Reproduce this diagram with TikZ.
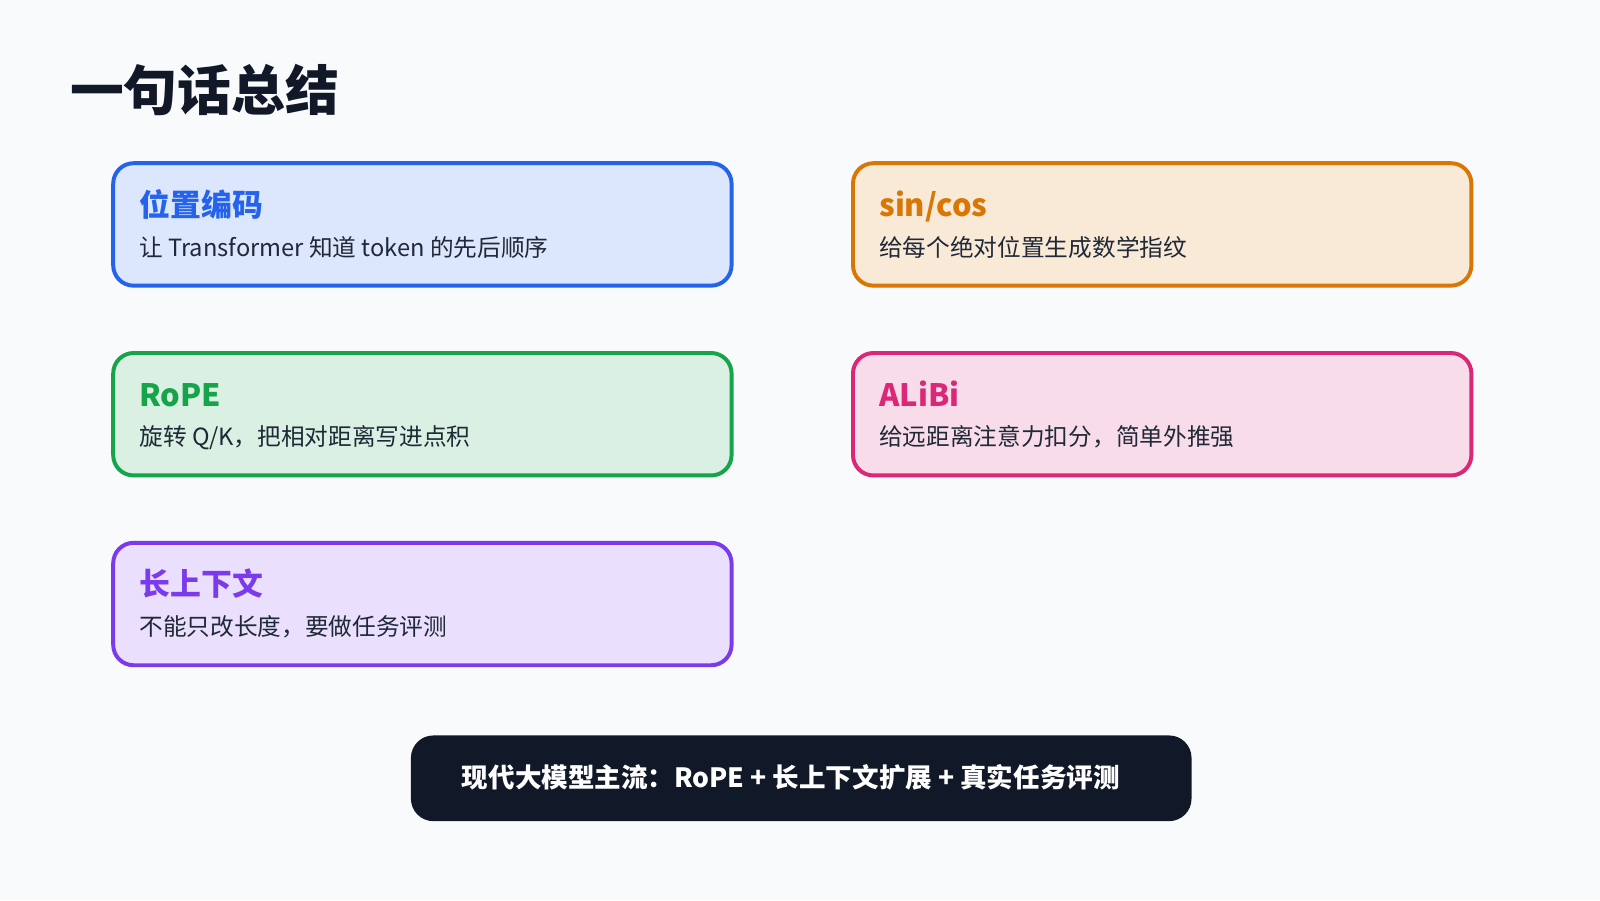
\documentclass[tikz,border=0pt]{standalone}
\usepackage{fontspec}
\setmainfont{Noto Sans CJK SC}
\usetikzlibrary{positioning}
\definecolor{PageBg}{HTML}{F8FAFC}
\definecolor{InkDark}{HTML}{111827}
\definecolor{TextBody}{HTML}{1F2937}
\definecolor{CardBlue}{HTML}{2563EB}
\definecolor{CardOrange}{HTML}{D97706}
\definecolor{CardGreen}{HTML}{16A34A}
\definecolor{CardPink}{HTML}{DB2777}
\definecolor{CardPurple}{HTML}{7C3AED}
\tikzset{
  card/.style={draw=#1, fill=#1!16, line width=1.1pt, rounded corners=0.2cm,
    minimum width=6.06cm, minimum height=1.2cm, anchor=north west},
  head/.style={font=\fontsize{8.6pt}{10pt}\selectfont\bfseries, text=#1, anchor=base west},
  body/.style={font=\fontsize{6.6pt}{8pt}\selectfont, text=TextBody, anchor=base west}
}
\begin{document}
\begin{tikzpicture}[y=-1cm]
  \fill[PageBg] (0,0) rectangle (15.68,8.82);
  \useasboundingbox (0,0) rectangle (15.68,8.82);
  % Title
  \node[font=\fontsize{15pt}{18pt}\selectfont\bfseries, text=InkDark, anchor=base west, inner sep=0pt] (title) at (0.68,1.08) {一句话总结};
  % Cards
  \node[card=CardBlue] (pos) at (1.09,1.58) {};
  \node[head=CardBlue, inner sep=0pt] (posH) at (1.36,2.12) {位置编码};
  \node[body, inner sep=0pt] (posB) at (1.36,2.51) {让 Transformer 知道 token 的先后顺序};
  \node[card=CardOrange] (sin) at (8.34,1.58) {};
  \node[head=CardOrange, inner sep=0pt] (sinH) at (8.61,2.12) {sin/cos};
  \node[body, inner sep=0pt] (sinB) at (8.61,2.51) {给每个绝对位置生成数学指纹};
  \node[card=CardGreen] (rope) at (1.09,3.44) {};
  \node[head=CardGreen, inner sep=0pt] (ropeH) at (1.36,3.98) {RoPE};
  \node[body, inner sep=0pt] (ropeB) at (1.36,4.37) {旋转 Q/K，把相对距离写进点积};
  \node[card=CardPink] (alibi) at (8.34,3.44) {};
  \node[head=CardPink, inner sep=0pt] (alibiH) at (8.61,3.98) {ALiBi};
  \node[body, inner sep=0pt] (alibiB) at (8.61,4.37) {给远距离注意力扣分，简单外推强};
  \node[card=CardPurple] (ctx) at (1.09,5.30) {};
  \node[head=CardPurple, inner sep=0pt] (ctxH) at (1.36,5.84) {长上下文};
  \node[body, inner sep=0pt] (ctxB) at (1.36,6.23) {不能只改长度，要做任务评测};
  % Summary bar
  \node[fill=InkDark, rounded corners=0.22cm, minimum width=7.65cm, minimum height=0.84cm, anchor=north west] (bar) at (4.02,7.20) {};
  \node[font=\fontsize{7.4pt}{9pt}\selectfont\bfseries, text=white, anchor=west, inner sep=0pt] (barT) at (4.52,7.62) {现代大模型主流：RoPE + 长上下文扩展 + 真实任务评测};
\end{tikzpicture}
\end{document}
